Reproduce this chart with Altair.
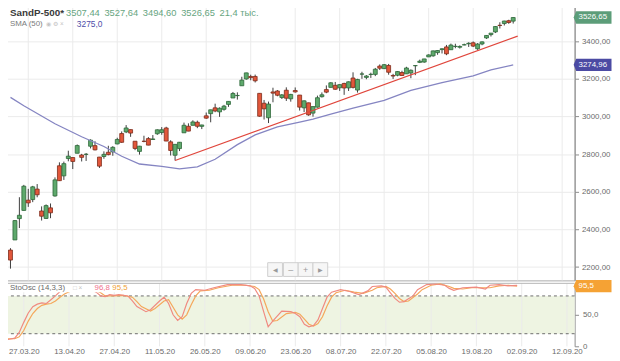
import json
import altair as alt
import pandas as pd

# ---------------- data ----------------
opens = [2290.71, 2344.44, 2457.77, 2501.29, 2555.87, 2558.98, 2614.69,
 2498.08, 2458.54, 2514.92, 2578.28, 2738.65, 2685.00, 2776.99, 2782.46, 2805.10, 2795.64, 2799.34, 2842.43, 2845.62, 2784.81, 2787.89, 2810.42, 2812.64, 2854.65, 2909.96, 2918.46, 2930.91,
 2869.09, 2815.01, 2868.88, 2883.14, 2878.26, 2908.83, 2915.46, 2939.50, 2865.86, 2794.54, 2829.95, 2913.86, 2948.59, 2953.63, 2969.95, 2948.05, 3004.08, 3015.65, 3046.61, 3025.17,
 3038.78, 3064.78, 3098.90, 3111.56, 3163.84, 3199.92, 3213.32, 3213.42, 3123.53, 3071.04, 2993.76, 3131.00, 3136.13, 3101.64, 3140.29, 3094.42, 3138.70, 3114.40, 3046.60, 3073.20, 3018.59, 3050.20,
 3105.92, 3143.64, 3155.29, 3166.44, 3153.07, 3176.17, 3152.47, 3205.08, 3141.11, 3225.98, 3208.36, 3224.21, 3224.29, 3268.52, 3254.86, 3271.64, 3218.58, 3219.84, 3234.27, 3227.22, 3231.76, 3270.45,
 3288.26, 3289.92, 3317.37, 3323.17, 3340.05, 3356.04, 3370.34, 3355.46, 3372.95, 3368.66, 3380.86, 3387.04, 3392.51, 3360.48, 3386.01, 3418.09, 3435.95, 3449.97, 3485.14, 3494.69, 3509.73,
 3507.44]
highs = [2300.73, 2449.71, 2571.42, 2637.01, 2615.91, 2631.80, 2641.39,
 2522.75, 2533.22, 2538.18, 2676.85, 2756.89, 2760.75, 2818.57, 2782.46, 2851.85, 2801.88, 2806.51, 2879.22, 2868.98, 2785.54, 2815.10, 2844.90, 2842.71, 2887.72, 2921.15, 2954.86, 2930.91,
 2869.09, 2844.24, 2898.23, 2891.11, 2901.92, 2932.16, 2944.25, 2945.82, 2874.14, 2852.80, 2865.01, 2968.09, 2964.21, 2980.29, 2978.50, 2956.76, 3021.72, 3036.25, 3068.67, 3049.17,
 3062.18, 3081.07, 3130.94, 3128.91, 3211.72, 3233.13, 3222.71, 3223.27, 3123.53, 3088.42, 3079.76, 3153.45, 3141.16, 3120.00, 3155.53, 3120.92, 3154.90, 3115.01, 3086.25, 3073.73, 3053.89, 3111.51,
 3128.44, 3165.81, 3182.59, 3184.15, 3171.80, 3179.78, 3186.82, 3235.32, 3200.95, 3238.28, 3220.39, 3233.52, 3258.61, 3277.29, 3279.32, 3279.99, 3227.26, 3241.43, 3243.72, 3264.74, 3250.92, 3272.17,
 3302.73, 3306.84, 3330.77, 3351.03, 3352.54, 3363.29, 3381.01, 3387.89, 3387.24, 3378.51, 3387.59, 3395.06, 3399.54, 3390.80, 3399.96, 3432.09, 3444.21, 3481.07, 3501.38, 3509.23, 3514.77,
 3527.64]
lows = [2191.86, 2344.44, 2407.53, 2500.72, 2520.02, 2545.28, 2571.15,
 2447.49, 2455.79, 2459.96, 2574.57, 2657.67, 2663.30, 2762.36, 2721.17, 2805.10, 2761.54, 2764.32, 2830.88, 2820.43, 2727.10, 2775.95, 2794.26, 2791.76, 2852.89, 2860.71, 2912.16, 2892.47,
 2821.61, 2797.85, 2863.55, 2847.65, 2876.48, 2902.88, 2903.44, 2869.59, 2793.15, 2766.64, 2816.78, 2913.86, 2922.35, 2953.63, 2938.57, 2933.59, 2988.17, 2969.75, 3023.40, 2998.61,
 3031.54, 3051.64, 3098.90, 3090.41, 3163.84, 3196.00, 3193.11, 3181.49, 2999.49, 2984.47, 2965.66, 3076.06, 3108.03, 3093.51, 3083.11, 3079.39, 3127.12, 3032.13, 3024.01, 3004.63, 2999.74, 3047.83,
 3101.17, 3124.52, 3155.29, 3142.93, 3136.53, 3115.70, 3136.22, 3149.43, 3127.66, 3200.76, 3198.59, 3205.65, 3215.16, 3247.77, 3253.10, 3222.66, 3200.05, 3214.25, 3216.17, 3227.22, 3204.13, 3220.26,
 3284.53, 3286.37, 3317.37, 3318.14, 3328.72, 3335.44, 3326.44, 3355.46, 3363.35, 3361.64, 3379.22, 3370.15, 3369.66, 3354.69, 3379.31, 3413.13, 3425.84, 3444.15, 3468.35, 3484.32, 3493.25,
 3494.60]
closes = [2237.40, 2447.33, 2475.56, 2630.07, 2541.47, 2626.65, 2584.59,
 2470.50, 2526.90, 2488.65, 2663.68, 2659.41, 2749.98, 2789.82, 2761.63, 2846.06, 2783.36, 2799.55, 2874.56, 2823.16, 2736.56, 2799.31, 2797.80, 2836.74, 2878.48, 2863.39, 2939.51, 2912.43,
 2830.71, 2842.74, 2868.44, 2848.42, 2881.19, 2929.80, 2930.19, 2870.12, 2820.00, 2852.50, 2863.70, 2953.91, 2922.94, 2971.61, 2948.51, 2955.45, 2991.77, 3036.13, 3029.73, 3044.31,
 3055.73, 3080.82, 3122.87, 3112.35, 3193.93, 3232.39, 3207.18, 3190.14, 3002.10, 3041.31, 3066.59, 3124.74, 3113.49, 3115.34, 3097.74, 3117.86, 3131.29, 3050.33, 3083.76, 3009.05, 3053.24, 3100.29,
 3115.86, 3130.01, 3179.72, 3145.32, 3169.94, 3152.05, 3185.04, 3155.22, 3197.52, 3226.56, 3215.57, 3224.73, 3251.84, 3257.30, 3276.02, 3235.66, 3215.63, 3239.41, 3218.44, 3258.44, 3246.22, 3271.12,
 3294.61, 3306.51, 3327.77, 3349.16, 3351.28, 3360.47, 3333.69, 3380.35, 3373.43, 3372.85, 3381.99, 3389.78, 3374.85, 3385.51, 3397.16, 3431.28, 3443.62, 3478.73, 3484.55, 3508.01, 3500.31,
 3526.65]

tick_idx = [4, 14, 24, 34, 44, 54, 64, 74, 84, 94, 104, 114, 124]
tick_labels = ["27.03.20", "13.04.20", "27.04.20", "11.05.20", "26.05.20", "09.06.20", "23.06.20",
               "08.07.20", "22.07.20", "05.08.20", "19.08.20", "02.09.20", "12.09.20"]
price_ticks = [2200, 2400, 2600, 2800, 3000, 3200, 3400]
osc_ticks = [0, 50]
osc_levels = [20, 80]

sma_idx = [0, 3, 10, 16, 21, 25, 29, 34, 38, 42, 46, 51, 55, 60, 65, 68, 72, 77, 84, 90, 97, 104, 108, 113]
sma_val = [3102, 3058, 2962, 2893, 2841, 2789, 2748, 2736, 2722, 2733, 2773, 2851, 2903, 2945, 2971, 2987,
           3013, 3045, 3086, 3139, 3180, 3217, 3248, 3275]

trend_idx = [37, 114]
trend_val = [2766.6, 3428.0]

k_idx = [0, 2, 3, 4, 5, 6, 7, 8, 9, 10, 11, 12, 14, 16, 18, 20, 21, 22, 23, 24, 25, 27, 28, 29, 31, 32, 34, 35,
         36, 37, 38, 39, 40, 41, 42, 44, 46, 49, 52, 54, 55, 56, 57, 58, 59, 61, 63, 64, 65, 66, 67, 68, 69, 70,
         71, 72, 74, 76, 78, 80, 81, 83, 84, 85, 86, 87, 88, 90, 91, 93, 95, 97, 98, 99, 101, 104, 106, 107, 109, 111, 113]
k_val = [10, 13, 22, 38, 53, 63, 67, 69, 68, 74, 80, 87, 93, 95, 93, 86, 80, 79, 82, 81, 82, 80, 72, 63, 55, 58, 72, 78,
         68, 50, 41, 47, 68, 84, 90, 89, 93, 98, 98, 96, 92, 80, 55, 31, 40, 56, 55, 52, 47, 35, 31, 33, 42, 60,
         78, 86, 90, 87, 82, 88, 95, 96, 94, 85, 76, 70, 71, 80, 90, 98, 99, 97, 92, 89, 93, 94, 91, 97, 98, 96, 96.8]
d_idx = [0, 2, 3, 4, 5, 6, 7, 8, 9, 10, 11, 12, 13, 15, 17, 19, 21, 22, 24, 26, 28, 29, 30, 32, 33, 35, 36, 37,
         38, 39, 40, 41, 42, 43, 45, 47, 50, 53, 55, 56, 57, 58, 59, 60, 62, 64, 65, 66, 67, 68, 69, 70, 71, 72,
         73, 75, 77, 79, 81, 82, 84, 85, 86, 87, 88, 89, 91, 92, 94, 96, 98, 99, 101, 103, 105, 107, 109, 111, 113]
d_val = [12, 12, 15, 25, 40, 52, 60, 65, 67, 68, 72, 78, 83, 90, 93, 92, 85, 80, 80, 81, 78, 71, 63, 56, 60, 72, 74, 62,
         50, 43, 50, 66, 80, 88, 89, 93, 97, 97, 95, 90, 75, 55, 40, 41, 52, 54, 51, 43, 35, 32, 36, 47, 64, 78,
         85, 89, 86, 84, 89, 93, 95, 91, 84, 76, 71, 72, 83, 90, 97, 99, 95, 92, 91, 93, 93, 93, 96, 97, 95.5]

last_close = 3526.65
last_sma = 3274.96
last_d = 95.5
header_title = "SandP-500*"
header_vals = ["3507,44", "3527,64", "3494,60", "3526,65", "21,4 тыс."]
sma_title = "SMA (50)"
sma_text = "3275,0"
osc_title = "StoOsc (14,3,3)"
osc_k_text = "96,8"
osc_d_text = "95,5"
nav_glyphs = ["◀", "–", "+", "▶"]

# ---------------- styles ----------------
FONT = "Arial, Liberation Sans, sans-serif"
W, H1, H2 = 583, 281, 64
GRID = "#ebebeb"
AXC = "#8c8c8c"
LABC = "#6a6a6a"
AXFS = 8

xsc = alt.Scale(domain=[-1, 125.7], nice=False, zero=False)
ysc = alt.Scale(domain=[2129.4, 3598.7], nice=False, zero=False)
osc = alt.Scale(domain=[0, 100], nice=False, zero=False)

yaxis = alt.Axis(orient="right", values=price_ticks,
                 labelExpr="replace(format(datum.value, '.2f'), '.', ',')",
                 grid=True, gridColor=GRID, domainColor=AXC, tickColor=AXC, tickSize=4,
                 labelColor=LABC, labelFontSize=AXFS, labelFont=FONT, labelPadding=3, title=None)
oaxis = alt.Axis(orient="right", values=osc_ticks,
                 labelExpr="datum.value == 0 ? '0' : replace(format(datum.value, '.1f'), '.', ',')",
                 grid=False, domainColor=AXC, tickColor=AXC, tickSize=4,
                 labelColor=LABC, labelFontSize=AXFS, labelFont=FONT, labelPadding=4, title=None)
xaxis = alt.Axis(values=tick_idx, labelExpr=json.dumps(tick_labels) + "[round((datum.value - 4) / 10)]",
                 grid=False, domain=False, ticks=False, labelColor=LABC, labelFontSize=AXFS, labelFont=FONT,
                 labelPadding=1, labelFlush=False, labelOverlap=False, title=None)


def txt(s, x, y, color, size=10, bold=False, align="left"):
    return alt.Chart(pd.DataFrame({"t": [s]})).mark_text(
        align=align, baseline="middle", fontSize=size, font=FONT,
        fontWeight="bold" if bold else "normal", color=color
    ).encode(x=alt.value(x), y=alt.value(y), text="t:N")


TAG = "M-1.08,0L-0.94,-0.34L1,-0.34L1,0.34L-0.94,0.34Z"

# ---------------- main panel ----------------
df = pd.DataFrame({"i": list(range(len(closes))), "o": opens, "h": highs, "l": lows, "c": closes})
df["dir"] = ["up" if c >= o else "down" for o, c in zip(opens, closes)]

vgrid = alt.Chart(pd.DataFrame({"i": tick_idx})).mark_rule(color=GRID, strokeWidth=1).encode(
    x=alt.X("i:Q", scale=xsc, axis=None))

wick = alt.Chart(df).mark_rule(color="#3c3c3c", strokeWidth=1).encode(
    x=alt.X("i:Q", scale=xsc, axis=None),
    y=alt.Y("l:Q", scale=ysc, axis=yaxis), y2="h:Q")

body = alt.Chart(df).mark_bar(size=4, strokeWidth=0.8).encode(
    x=alt.X("i:Q", scale=xsc, axis=None),
    y=alt.Y("o:Q", scale=ysc, axis=yaxis), y2="c:Q",
    fill=alt.Fill("dir:N", scale=alt.Scale(domain=["up", "down"], range=["#5ea96c", "#e2573b"]), legend=None),
    stroke=alt.Stroke("dir:N", scale=alt.Scale(domain=["up", "down"], range=["#2d6638", "#7c2a1a"]), legend=None))

sma = alt.Chart(pd.DataFrame({"i": sma_idx, "v": sma_val})).mark_line(
    color="#8585c2", strokeWidth=1.3).encode(
    x=alt.X("i:Q", scale=xsc, axis=None), y=alt.Y("v:Q", scale=ysc, axis=yaxis))

trend = alt.Chart(pd.DataFrame({"i": trend_idx, "v": trend_val})).mark_line(
    color="#e0463c", strokeWidth=1.3).encode(
    x=alt.X("i:Q", scale=xsc, axis=None), y=alt.Y("v:Q", scale=ysc, axis=yaxis))

tags = alt.Chart(pd.DataFrame({"v": [last_close, last_sma], "k": ["c", "s"],
                               "t": ["3526,65", "3274,96"]}))
tag_shapes = tags.mark_point(shape=TAG, filled=True, size=1369, opacity=1, strokeWidth=0).encode(
    x=alt.value(602), y=alt.Y("v:Q", scale=ysc, axis=yaxis),
    color=alt.Color("k:N", scale=alt.Scale(domain=["c", "s"], range=["#5c9d79", "#4b4aa3"]), legend=None))
tag_text = tags.mark_text(color="white", fontSize=AXFS, font=FONT, align="center", baseline="middle").encode(
    x=alt.value(601.5), y=alt.Y("v:Q", scale=ysc, axis=yaxis), text="t:N")

# navigation buttons
nav_layers = []
nav_x = [271, 287, 302, 317]
for gx, g in zip(nav_x, nav_glyphs):
    nav_layers.append(alt.Chart(pd.DataFrame({"g": [g]})).mark_rect(
        fill="#f6f6f6", stroke="#cfcfcf", strokeWidth=1).encode(
        x=alt.value(gx), x2=alt.value(gx + 15), y=alt.value(263), y2=alt.value(277)))
    nav_layers.append(alt.Chart(pd.DataFrame({"g": [g]})).mark_text(
        fontSize=6 if g in "◀▶" else 9, color="#9a9a9a", align="center", baseline="middle", font=FONT).encode(
        x=alt.value(gx + 7.5), y=alt.value(270), text="g:N"))

header_x = [66, 105, 144, 183, 222]
header = [txt(header_title, 9, 9, "#3a3a3a", size=10, bold=True)]
for hx, hv in zip(header_x, header_vals):
    header.append(txt(hv, hx, 9, "#67a57f", size=9.5))
header.append(txt(sma_title, 9, 20, "#7a7a7a", size=8))
header.append(txt("◉ ⚙ ×", 46, 20, "#c4c4c4", size=6.5))
header.append(txt(sma_text, 77, 20, "#4d4da8", size=8.5))

main = alt.layer(vgrid, wick, body, sma, trend, *nav_layers, tag_shapes, tag_text, *header).properties(
    width=W, height=H1, view=alt.ViewBackground(stroke="#a9a9a9", strokeWidth=1))

# ---------------- oscillator panel ----------------
band = alt.Chart(pd.DataFrame({"lo": [osc_levels[0]], "hi": [osc_levels[1]]})).mark_rect(
    color="#eef4e2").encode(
    x=alt.value(0), x2=alt.value(W),
    y=alt.Y("lo:Q", scale=osc, axis=oaxis), y2="hi:Q")

ogrid = alt.Chart(pd.DataFrame({"i": tick_idx})).mark_rule(color=GRID, strokeWidth=1).encode(
    x=alt.X("i:Q", scale=xsc, axis=xaxis))

levels = alt.Chart(pd.DataFrame({"v": osc_levels})).mark_rule(
    color="#6c6c6c", strokeDash=[3, 3], strokeWidth=1).encode(
    y=alt.Y("v:Q", scale=osc, axis=oaxis))

top_line = alt.Chart(pd.DataFrame({"v": [100]})).mark_rule(color="#b5b5b5", strokeWidth=1).encode(
    y=alt.Y("v:Q", scale=osc, axis=oaxis))

kline = alt.Chart(pd.DataFrame({"i": k_idx, "v": k_val})).mark_line(
    color="#f08a80", strokeWidth=1.2).encode(
    x=alt.X("i:Q", scale=xsc, axis=xaxis), y=alt.Y("v:Q", scale=osc, axis=oaxis))
dline = alt.Chart(pd.DataFrame({"i": d_idx, "v": d_val})).mark_line(
    color="#f5a75a", strokeWidth=1.2).encode(
    x=alt.X("i:Q", scale=xsc, axis=xaxis), y=alt.Y("v:Q", scale=osc, axis=oaxis))

leg_bg = alt.Chart(pd.DataFrame({"a": [0]})).mark_rect(color="white").encode(
    x=alt.value(0), x2=alt.value(132), y=alt.value(1), y2=alt.value(9))
leg = [txt(osc_title, 9, 5, "#6a6a6a", size=8),
       txt("□ ×", 73, 5, "#c4c4c4", size=6.5),
       txt(osc_k_text, 95, 5, "#f0708c", size=8),
       txt(osc_d_text, 113, 5, "#f0a236", size=8)]

otag = alt.Chart(pd.DataFrame({"v": [last_d], "t": [osc_d_text]}))
otag_shape = otag.mark_point(shape=TAG, filled=True, size=1369, opacity=1, strokeWidth=0,
                             color="#f5a234").encode(
    x=alt.value(602), y=alt.Y("v:Q", scale=osc, axis=oaxis))
otag_text = otag.mark_text(color="white", fontSize=AXFS, font=FONT, align="left", baseline="middle").encode(
    x=alt.value(587), y=alt.Y("v:Q", scale=osc, axis=oaxis), text="t:N")

oscp = alt.layer(band, ogrid, levels, top_line, dline, kline, leg_bg, *leg, otag_shape, otag_text).properties(
    width=W, height=H2, view=alt.ViewBackground(stroke=None))

chart = alt.vconcat(main, oscp, spacing=3, bounds="flush").properties(
    padding={"left": -8, "top": -8, "right": 0, "bottom": 0},
    background="white"
).configure_view(stroke=None)

chart.save("out.html", embed_options={"renderer": "svg", "actions": False})
